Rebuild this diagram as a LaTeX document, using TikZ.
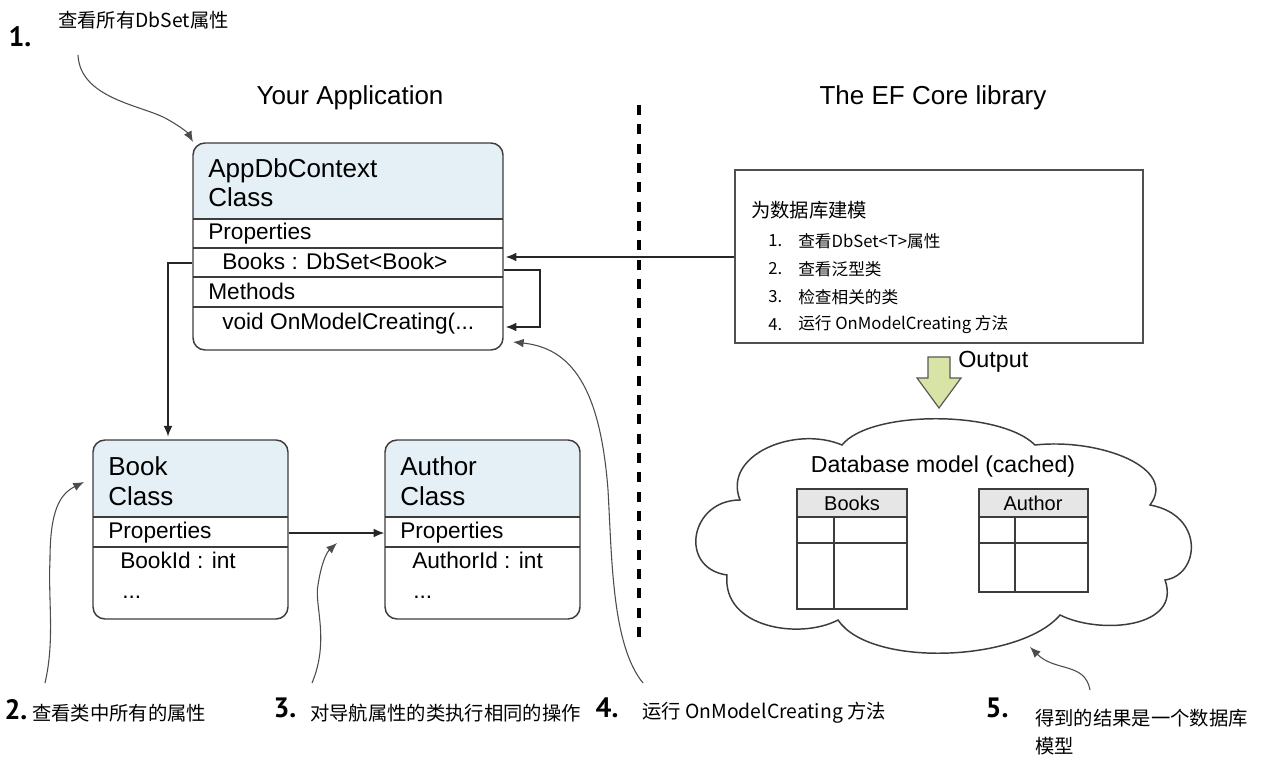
\documentclass[tikz,border=0pt]{standalone}
\usepackage{fontspec}
\setmainfont{Liberation Sans}
\newfontfamily\cjk{Noto Sans CJK SC}
\newfontfamily\numfont{PT Sans}
\usetikzlibrary{arrows.meta,fit}
\definecolor{hdrblue}{HTML}{E4F0F6}
\definecolor{tblgray}{HTML}{E6E6E6}
\definecolor{outgreen}{HTML}{D8E4A6}
\definecolor{linec}{HTML}{3C3C3C}
\begin{document}
\begin{tikzpicture}[x=0.75pt,y=-0.75pt,
  boxline/.style={draw=linec, line width=1.1pt},
  classbox/.style={boxline, rounded corners=9pt, inner sep=0pt, fit=#1},
  conn/.style={draw=black!85, line width=0.9pt, -{Latex[length=8pt,width=6.5pt]}},
  curv/.style={draw=black!70, line width=0.8pt, -{Latex[length=8pt,width=6.5pt]}},
  hdrtxt/.style={anchor=base west, inner sep=0pt, font=\fontsize{19.5}{21}\selectfont},
  rowtxt/.style={anchor=base west, inner sep=0pt, font=\fontsize{17}{18}\selectfont},
  titletxt/.style={inner sep=0pt, font=\fontsize{19.5}{21}\selectfont},
  numtxt/.style={inner sep=0pt, font=\numfont\bfseries\fontsize{21}{22}\selectfont},
  cjktxt/.style={anchor=west, inner sep=0pt, font=\cjk\fontsize{14.5}{16}\selectfont},
  itemtxt/.style={anchor=west, inner sep=0pt, font=\cjk\fontsize{12.5}{14}\selectfont},
  tbltxt/.style={inner sep=0pt, font=\fontsize{15}{16}\selectfont},
]
\useasboundingbox (0,0) rectangle (1263,762);
\fill[white] (0,0) rectangle (1263,762);

% ---------- titles ----------
\node[titletxt] (tapp) at (350,98) {Your Application};
\node[titletxt] (tef) at (933,98) {The EF Core library};
\draw[line width=2.3pt, dash pattern=on 7.5pt off 7pt] (639,105) -- (639,640);

% ---------- AppDbContext ----------
\coordinate (c1) at (193,143); \coordinate (c2) at (503,350);
\begin{scope}
  \clip[rounded corners=9pt] (c1) rectangle (c2);
  \fill[hdrblue] (193,143) rectangle (503,219);
\end{scope}
\node[classbox={(c1)(c2)}] (ctx) {};
\foreach \yy in {219,248,277,307} \draw[boxline] (193,\yy) -- (503,\yy);
\node[hdrtxt] (ctxa) at (208,178) {AppDbContext};
\node[hdrtxt] (ctxb) at (208,207) {Class};
\node[rowtxt] (ctxp) at (208,240) {Properties};
\node[rowtxt] (ctxr) at (222,270) {Books : DbSet<Book>};
\node[rowtxt] (ctxm) at (208,300) {Methods};
\node[rowtxt] (ctxo) at (222,330) {void OnModelCreating(...};

% ---------- Book ----------
\coordinate (b1) at (93,440); \coordinate (b2) at (288,619);
\begin{scope}
  \clip[rounded corners=9pt] (b1) rectangle (b2);
  \fill[hdrblue] (93,440) rectangle (288,517);
\end{scope}
\node[classbox={(b1)(b2)}] (book) {};
\foreach \yy in {517,547} \draw[boxline] (93,\yy) -- (288,\yy);
\node[hdrtxt] (bka) at (108,475) {Book};
\node[hdrtxt] (bkb) at (108,505) {Class};
\node[rowtxt] (bkp) at (108,538) {Properties};
\node[rowtxt] (bkr) at (120,568) {BookId : int};
\node[rowtxt] (bkd) at (122,598) {...};

% ---------- Author ----------
\coordinate (a1) at (385,440); \coordinate (a2) at (580,619);
\begin{scope}
  \clip[rounded corners=9pt] (a1) rectangle (a2);
  \fill[hdrblue] (385,440) rectangle (580,517);
\end{scope}
\node[classbox={(a1)(a2)}] (author) {};
\foreach \yy in {517,547} \draw[boxline] (385,\yy) -- (580,\yy);
\node[hdrtxt] (aua) at (400,475) {Author};
\node[hdrtxt] (aub) at (400,505) {Class};
\node[rowtxt] (aup) at (400,538) {Properties};
\node[rowtxt] (aur) at (412,568) {AuthorId : int};
\node[rowtxt] (aud) at (413,598) {...};

% ---------- EF model box ----------
\coordinate (e1) at (735,170); \coordinate (e2) at (1143,343);
\node[draw=linec!90, line width=1.4pt, inner sep=0pt, fit=(e1)(e2)] (efm) {};
\node[cjktxt] (eft) at (751,210) {为数据库建模};
\node[itemtxt] (n1) at (768,241) {1.};
\node[itemtxt] (i1) at (798,241) {查看DbSet<T>属性};
\node[itemtxt] (n2) at (768,269) {2.};
\node[itemtxt] (i2) at (798,269) {查看泛型类};
\node[itemtxt] (n3) at (768,297) {3.};
\node[itemtxt] (i3) at (798,297) {检查相关的类};
\node[itemtxt] (n4) at (768,325) {4.};
\node[itemtxt] (i4) at (798,325) {运行 OnModelCreating 方法};

% ---------- connectors ----------
\coordinate (yefm) at (600,257);
\draw[conn] (efm.west |- yefm) -- ([xshift=1.5pt]ctx.east |- yefm);
\coordinate (loopa) at (540,270);
\coordinate (loopb) at (540,327);
\draw[conn] (ctx.east |- loopa) -- (loopa) -- (loopb) -- ([xshift=1.5pt]ctx.east |- loopb);
\coordinate (bk) at (168,263);
\draw[conn] (ctx.west |- bk) -- (bk) -- ([yshift=2pt]bk |- book.north);
\coordinate (ba) at (330,533);
\draw[conn] (book.east |- ba) -- (author.west |- ba);

% ---------- output arrow ----------
\draw[fill=outgreen, draw=black!65, line width=0.9pt, line join=miter]
  (928,357) -- (950,357) -- (950,378) -- (961,378) -- (939,408) -- (917,378) -- (928,378) -- cycle;
\node[inner sep=0pt, anchor=west, font=\fontsize{17.5}{19}\selectfont] (outl) at (958,362) {Output};

% ---------- cloud ----------
\draw[draw=linec, line width=1.1pt]
  (740,500) .. controls (722,455) and (795,425) .. (842,445)
  .. controls (870,410) and (1000,410) .. (1035,445)
  .. controls (1100,438) and (1178,468) .. (1150,505)
  .. controls (1205,515) and (1200,575) .. (1165,580)
  .. controls (1182,628) and (1100,635) .. (1060,615)
  .. controls (1020,662) and (870,668) .. (838,620)
  .. controls (800,640) and (722,628) .. (727,575)
  .. controls (678,568) and (690,500) .. (740,500) -- cycle;
\node[inner sep=0pt, anchor=base, font=\fontsize{17.3}{19}\selectfont] (dbm) at (943,473) {Database model (cached)};

% tables
\fill[tblgray] (797,489) rectangle (907,517);
\draw[boxline] (797,489) rectangle (907,609);
\draw[boxline] (797,517) -- (907,517) (797,543) -- (907,543) (834,517) -- (834,609);
\node[tbltxt] (tb1) at (852,503) {Books};
\fill[tblgray] (979,489) rectangle (1088,517);
\draw[boxline] (979,489) rectangle (1088,592);
\draw[boxline] (979,517) -- (1088,517) (979,543) -- (1088,543) (1015,517) -- (1015,592);
\node[tbltxt] (tb2) at (1033,503) {Author};

% ---------- labels and curved arrows ----------
\node[numtxt] (l1) at (20,37) {1.};
\node[cjktxt] (t1) at (58,20) {查看所有DbSet属性};
\coordinate (s1) at (78,55);
\coordinate (e1c) at (193,142);
\draw[curv] (s1) .. controls (80,98) and (140,105) .. (165,118) .. controls (180,126) and (188,133) .. (e1c);

\node[numtxt] (l2) at (16,710) {2.};
\node[cjktxt] (t2) at (32,713) {查看类中所有的属性};
\coordinate (s2) at (45,683);
\coordinate (e2c) at (84,482);
\draw[curv] (s2) .. controls (55,640) and (48,600) .. (50,560) .. controls (50,510) and (60,494) .. (e2c);

\node[numtxt] (l3) at (285,708) {3.};
\node[cjktxt] (t3) at (310,713) {对导航属性的类执行相同的操作};
\coordinate (s3) at (312,683);
\coordinate (e3c) at (337,543);
\draw[curv] (s3) .. controls (330,640) and (314,605) .. (318,585) .. controls (321,565) and (326,553) .. (e3c);

\node[numtxt] (l4) at (607,708) {4.};
\node[cjktxt] (t4) at (642,713) {运行 OnModelCreating 方法};
\coordinate (s4) at (643,683);
\coordinate (e4c) at (513,342);
\draw[curv] (s4) .. controls (612,645) and (612,560) .. (608,490) .. controls (600,385) and (570,348) .. (e4c);

\node[numtxt] (l5) at (997,708) {5.};
\node[cjktxt] (t5a) at (1035,718) {得到的结果是一个数据库};
\node[cjktxt] (t5b) at (1035,746) {模型};
\coordinate (s5) at (1090,690);
\coordinate (e5c) at (1030,647);
\draw[curv] (s5) .. controls (1085,662) and (1055,672) .. (e5c);
\end{tikzpicture}
\end{document}
